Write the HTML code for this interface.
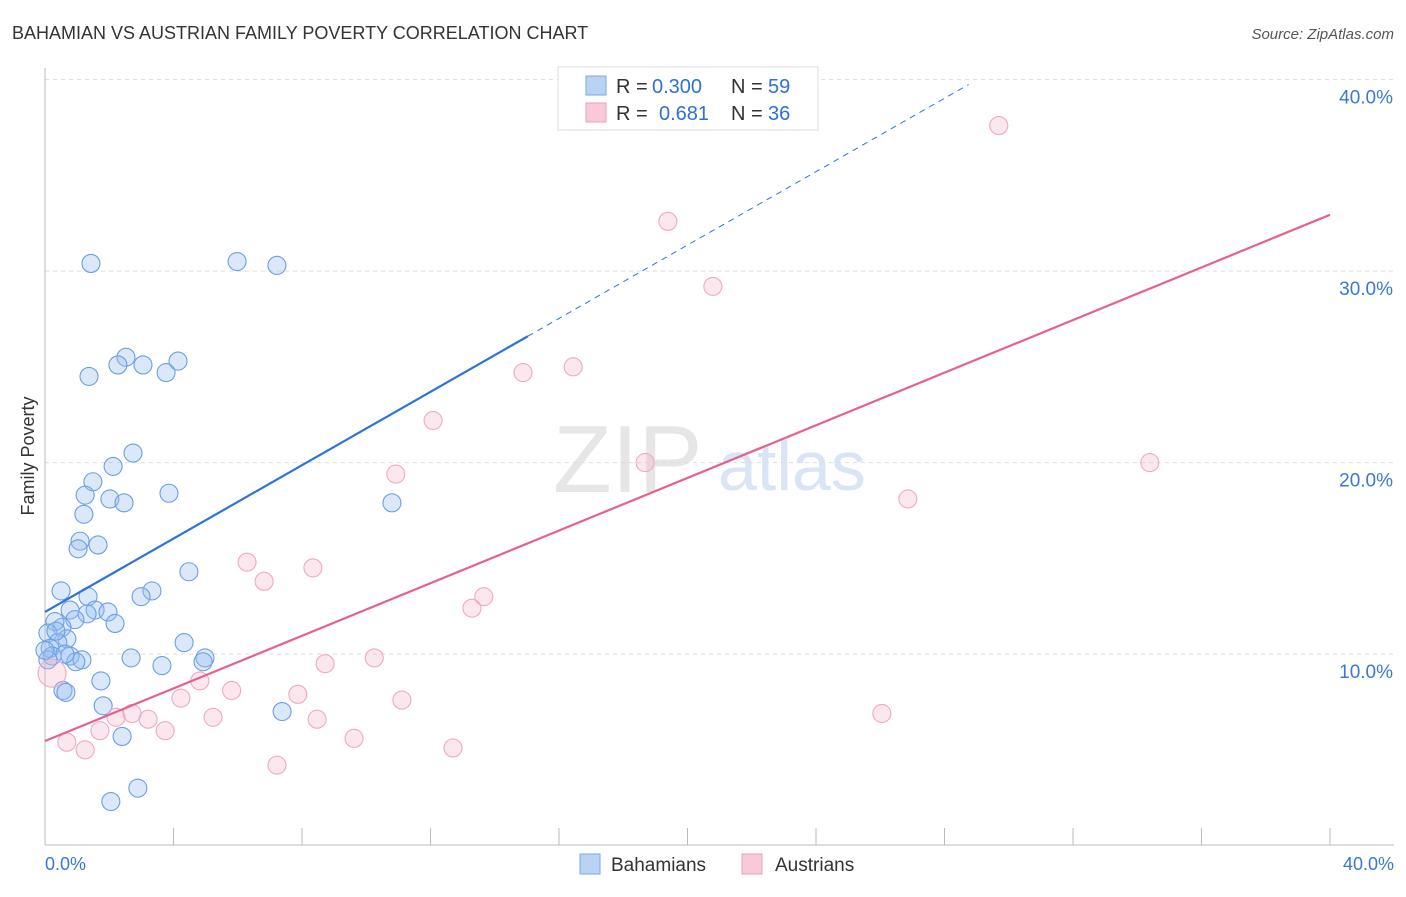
<!DOCTYPE html>
<html><head><meta charset="utf-8"><style>
body{margin:0;background:#fff;font-family:"Liberation Sans",sans-serif}
svg text{font-family:"Liberation Sans",sans-serif}
</style></head><body>
<svg width="1406" height="892">
<text x="12" y="39" font-size="18" fill="#333">BAHAMIAN VS AUSTRIAN FAMILY POVERTY CORRELATION CHART</text>
<text x="1394" y="39" font-size="15" fill="#555" text-anchor="end" font-style="italic">Source: ZipAtlas.com</text>
<text x="553" y="492" font-size="96" fill="#e6e6e6" font-family="Liberation Serif">ZIP</text>
<text x="718" y="490" font-size="70" fill="#d9e5f6">atlas</text>
<g id="grid"></g>
<line x1="45" y1="68" x2="45" y2="845" stroke="#bbb"/>
<line x1="45" y1="845" x2="1394" y2="845" stroke="#bbb"/>
<g id="ticks"></g>
<text x="34" y="456" font-size="18" fill="#333" transform="rotate(-90 34 456)" text-anchor="middle">Family Poverty</text>
<text x="45" y="870" font-size="18" fill="#3a78d6">0.0%</text>
<text x="1394" y="870" font-size="18" fill="#3a78d6" text-anchor="end">40.0%</text>
<g id="pts"></g>
<g id="lines"></g>
<g>
<rect x="558" y="67" width="260" height="63" fill="#fff" stroke="#ddd"/>
<rect x="586" y="76" width="20" height="19" fill="#b9d3f5" stroke="#7aa7e6"/>
<rect x="586" y="103" width="20" height="19" fill="#f9c9d8" stroke="#eba2ba"/>
<text x="616" y="93" font-size="20" fill="#333">R =</text>
<text x="652" y="93" font-size="20" fill="#2f6fd6">0.300</text>
<text x="731" y="93" font-size="20" fill="#333">N =</text>
<text x="768" y="93" font-size="20" fill="#2f6fd6">59</text>
<text x="616" y="120" font-size="20" fill="#333">R =</text>
<text x="659" y="120" font-size="20" fill="#2f6fd6">0.681</text>
<text x="731" y="120" font-size="20" fill="#333">N =</text>
<text x="768" y="120" font-size="20" fill="#2f6fd6">36</text>
</g>
<g>
<rect x="580" y="854" width="20" height="20" fill="#b9d3f5" stroke="#7aa7e6"/>
<text x="611" y="871" font-size="19" fill="#333">Bahamians</text>
<rect x="742" y="854" width="20" height="20" fill="#f9c9d8" stroke="#eba2ba"/>
<text x="775" y="871" font-size="19" fill="#333">Austrians</text>
</g>
</svg>
<script>
const yTicks=[10,20,30,40];
const blueX=[1.43,5.98,7.22,2.52,2.27,3.05,4.14,3.77,1.37,2.74,2.12,1.49,1.25,2.02,2.46,3.86,10.8,1.21,1.09,1.03,1.65,4.48,0.5,3.33,2.99,1.34,0.78,1.56,1.96,1.31,0.93,2.18,0.53,0.31,0.09,0.68,0.40,0.16,0.22,0.78,1.15,0.96,4.33,2.68,3.64,4.98,4.92,1.74,0.56,0.65,1.81,2.40,7.38,2.89,2.05,0.09,0.34,0.62,0.0];
const blueY=[30.4,30.5,30.3,25.5,25.1,25.1,25.3,24.7,24.5,20.5,19.8,19.0,18.3,18.1,17.9,18.4,17.9,17.3,15.9,15.5,15.7,14.3,13.3,13.3,13.0,13.0,12.3,12.3,12.2,12.1,11.8,11.6,11.4,11.7,11.1,10.8,10.6,10.3,9.9,9.9,9.7,9.6,10.6,9.8,9.4,9.8,9.6,8.6,8.1,8.0,7.3,5.7,7.0,3.0,2.3,9.7,11.2,10.0,10.2];
const pinkX=[29.69,19.39,20.79,14.88,16.44,12.08,18.68,10.92,34.39,26.86,6.29,6.82,8.34,13.66,13.29,8.72,10.25,4.82,5.81,7.87,4.23,11.11,26.05,2.71,2.21,3.21,5.23,8.47,1.71,3.74,9.62,0.68,1.25,12.70,7.22,0.22];
const pinkY=[37.6,32.6,29.2,24.7,25.0,22.2,20.0,19.4,20.0,18.1,14.8,13.8,14.5,13.0,12.4,9.5,9.8,8.6,8.1,7.9,7.7,7.6,6.9,6.9,6.7,6.6,6.7,6.6,6.0,6.0,5.6,5.4,5.0,5.1,4.2,9.0];
const pinkR=[9,9,9,9,9,9,9,9,9,9,9,9,9,9,9,9,9,9,9,9,9,9,9,9,9,9,9,9,9,9,9,9,9,9,9,14];
const blueLine=[12.2,0.958];
const pinkLine=[5.46,0.687];
const sx=v=>45+v/40*1285, sy=v=>845.6-v*19.15;
const NS="http://www.w3.org/2000/svg";
function mk(t,a,p){const e=document.createElementNS(NS,t);for(const k in a)e.setAttribute(k,a[k]);document.getElementById(p).appendChild(e);return e;}
yTicks.forEach(t=>{
 const g=mk('line',{x1:45,x2:1394,y1:sy(t),y2:sy(t),stroke:'#ddd','stroke-dasharray':'4 4'},'grid');
 
 
 const tx=mk('text',{x:1393,y:sy(t)+24,'font-size':19,fill:'#3a78d6','text-anchor':'end'},'grid');
 tx.textContent=t.toFixed(1)+'%';
 
 
});
for(let k=0;k<=10;k++){const l=mk('line',{x1:45+128.5*k,x2:45+128.5*k,y1:828,y2:845,stroke:'#bbb'},'ticks');
 
 }
blueX.forEach((x,i)=>{const c=mk('circle',{cx:sx(x),cy:sy(blueY[i]),r:9,fill:'rgba(150,190,240,0.35)',stroke:'#6b9fe3','stroke-width':1.1},'pts');
 
 });
pinkX.forEach((x,i)=>{const c=mk('circle',{cx:sx(x),cy:sy(pinkY[i]),r:pinkR[i],fill:'rgba(245,175,198,0.3)',stroke:'#eeaac0','stroke-width':1.1},'pts');
 
 });
let l=mk('line',{x1:sx(0),y1:sy(blueLine[0]),x2:sx(15.03),y2:sy(blueLine[0]+blueLine[1]*15.03),stroke:'#2c74d8','stroke-width':2.2},'lines');


l=mk('line',{x1:sx(15.03),y1:sy(blueLine[0]+blueLine[1]*15.03),x2:sx(28.75),y2:sy(blueLine[0]+blueLine[1]*28.75),stroke:'#2c74d8','stroke-width':1,'stroke-dasharray':'6 5'},'lines');


l=mk('line',{x1:sx(0),y1:sy(pinkLine[0]),x2:sx(40),y2:sy(pinkLine[0]+pinkLine[1]*40),stroke:'#e4628f','stroke-width':2.2},'lines');


</script>
</body></html>
